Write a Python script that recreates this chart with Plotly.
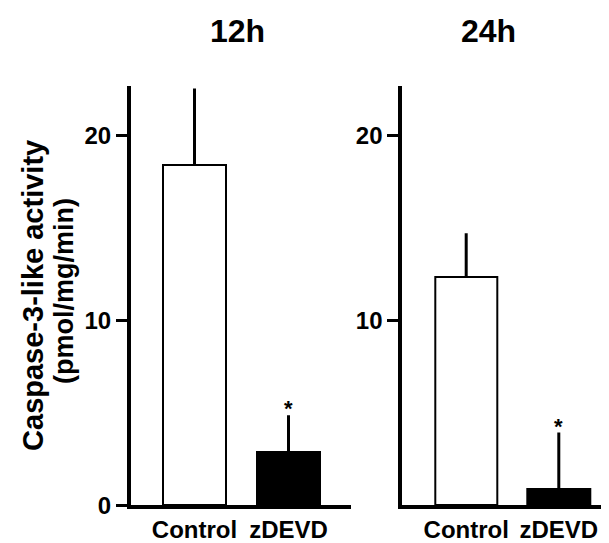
import plotly.graph_objects as go

categories = ["Control", "zDEVD"]
values_12h = [18.4, 2.88]
errors_12h = [4.14, 1.99]
values_24h = [12.32, 0.89]
errors_24h = [2.39, 3.04]
bar_colors = ["white", "black"]
panel_titles = ["12h", "24h"]
ytick_left = [0, 10, 20]
ytick_right = [10, 20]

FONT = "Liberation Sans, Arial, Helvetica, sans-serif"
W, H = 609, 543

fig = go.Figure()

def add_panel(vals, errs, xa, ya):
    fig.add_trace(go.Bar(
        x=categories, y=vals, xaxis=xa, yaxis=ya,
        marker=dict(color=bar_colors, line=dict(color="black", width=2)),
        width=0.67,
        error_y=dict(type="data", symmetric=False, array=errs,
                     arrayminus=[0] * len(errs), width=0, thickness=3,
                     color="black"),
        showlegend=False, hoverinfo="skip"))

add_panel(values_12h, errors_12h, "x", "y")
add_panel(values_24h, errors_24h, "x2", "y2")

y_bottom = (H - 509.5) / H
y_top = (H - 80) / H
yr = [0, 22.67]

axis_common = dict(showline=True, linecolor="black", linewidth=4,
                   showgrid=False, zeroline=False)
xtick_font = dict(size=24, family=FONT, weight="bold")
ytick_font = dict(size=24, family=FONT, weight="bold")

fig.update_layout(
    width=W, height=H,
    margin=dict(l=0, r=0, t=0, b=0),
    paper_bgcolor="white", plot_bgcolor="white",
    font=dict(family=FONT, color="black"),
    bargap=0,
    xaxis=dict(domain=[123 / W, 342.7 / W], type="category",
               range=[-0.6755, 1.6617], ticks="", tickfont=xtick_font,
               anchor="y", **axis_common),
    yaxis=dict(domain=[y_bottom, y_top], range=yr, tickvals=ytick_left,
               ticks="outside", ticklen=11, tickwidth=3, tickcolor="black",
               tickfont=ytick_font, anchor="x", **axis_common),
    xaxis2=dict(domain=[394.3 / W, 1.0], type="category",
                range=[-0.690, 1.6285], ticks="", tickfont=xtick_font,
                anchor="y2", **axis_common),
    yaxis2=dict(domain=[y_bottom, y_top], range=yr, tickvals=ytick_right,
                ticks="outside", ticklen=11, tickwidth=3, tickcolor="black",
                tickfont=ytick_font, anchor="x2", **axis_common),
)

# significance stars
for xa, ya, vals, errs in [("x", "y", values_12h, errors_12h),
                           ("x2", "y2", values_24h, errors_24h)]:
    fig.add_annotation(x=categories[1], y=vals[1] + errs[1], xref=xa, yref=ya,
                       text="<b>*</b>", showarrow=False, yanchor="bottom",
                       yshift=-8, font=dict(size=22, family=FONT))

# panel titles
fig.add_annotation(x=229 / W, y=1 - 23.4 / H, xref="paper", yref="paper",
                   text="<b>" + panel_titles[0] + "</b>", showarrow=False,
                   xanchor="center", yanchor="middle",
                   font=dict(size=32, family=FONT))
fig.add_annotation(x=480 / W, y=1 - 23.4 / H, xref="paper", yref="paper",
                   text="<b>" + panel_titles[1] + "</b>", showarrow=False,
                   xanchor="center", yanchor="middle",
                   font=dict(size=32, family=FONT))

# y axis title (two lines)
fig.add_annotation(x=25 / W, y=1 - 295 / H, xref="paper", yref="paper",
                   text="<b>Caspase-3-like activity</b>", showarrow=False,
                   textangle=-90, xanchor="center", yanchor="middle",
                   font=dict(size=29, family=FONT))
fig.add_annotation(x=56 / W, y=1 - 290 / H, xref="paper", yref="paper",
                   text="<b>(pmol/mg/min)</b>", showarrow=False,
                   textangle=-90, xanchor="center", yanchor="middle",
                   font=dict(size=27, family=FONT))

fig.write_html("out.html")
